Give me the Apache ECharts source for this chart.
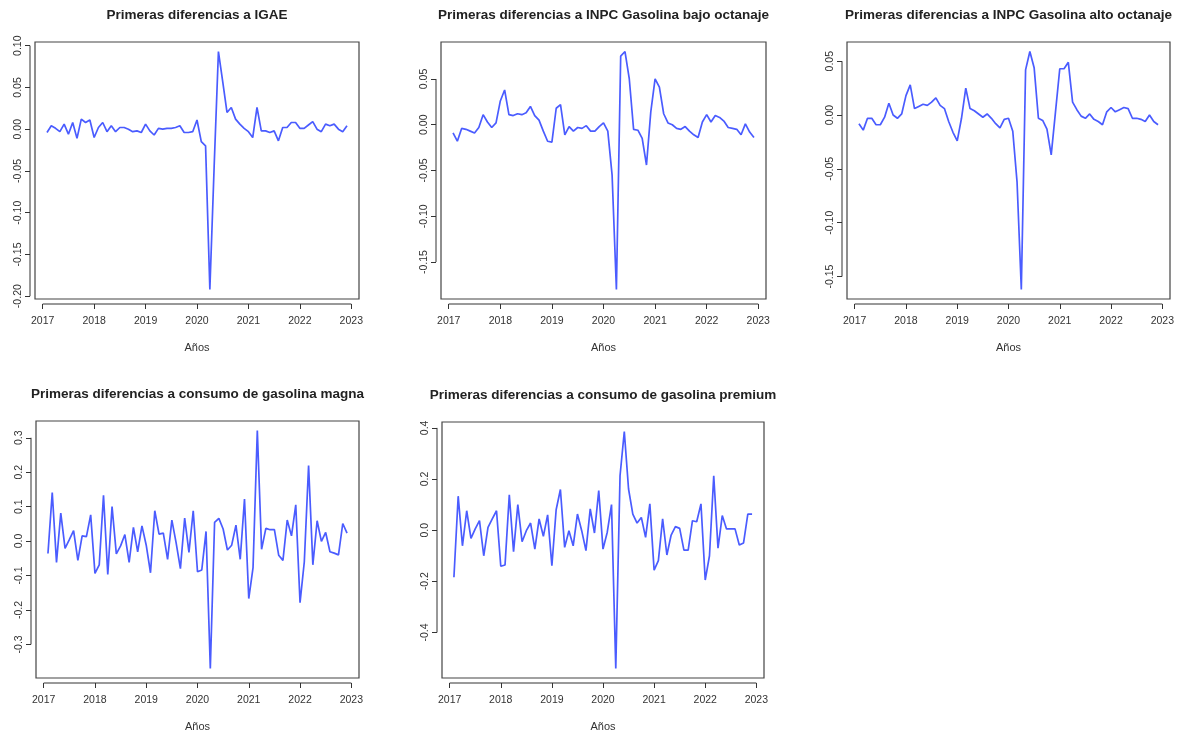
<!DOCTYPE html>
<html>
<head>
<meta charset="utf-8">
<script src="https://cdn.jsdelivr.net/npm/echarts@6/dist/echarts.min.js"></script>
<style>
html,body{margin:0;padding:0;background:#fff;}
#c{width:1181px;height:733px;}
</style>
</head>
<body>
<div id="c"></div>
<script>
// Monthly first differences, Feb 2017 .. Dec 2022
var startYear = 2017, startMonth = 2;

var igae = [-0.004,0.004,0.001,-0.003,0.006,-0.006,0.008,-0.011,0.012,0.008,0.011,-0.010,
 0.002,0.008,-0.003,0.004,-0.003,0.002,0.002,0.000,-0.003,-0.002,-0.004,0.006,
 -0.002,-0.007,0.001,0.000,0.001,0.001,0.002,0.004,-0.004,-0.004,-0.003,0.011,
 -0.015,-0.020,-0.192,-0.045,0.093,0.057,0.020,0.026,0.012,0.006,0.001,-0.003,
 -0.010,0.026,-0.002,-0.002,-0.004,-0.002,-0.014,0.002,0.002,0.008,0.008,0.001,
 0.001,0.005,0.009,0.000,-0.003,0.006,0.004,0.006,0.000,-0.003,0.004];

var inpcBajo = [-0.009,-0.018,-0.004,-0.005,-0.007,-0.009,-0.003,0.011,0.003,-0.003,0.002,0.026,
 0.038,0.011,0.010,0.012,0.011,0.013,0.020,0.010,0.005,-0.007,-0.018,-0.019,
 0.018,0.022,-0.011,-0.002,-0.007,-0.003,-0.004,-0.001,-0.007,-0.007,-0.002,0.002,
 -0.007,-0.055,-0.180,0.075,0.080,0.050,-0.005,-0.006,-0.015,-0.044,0.014,0.050,
 0.041,0.012,0.002,0.000,-0.004,-0.005,-0.002,-0.007,-0.011,-0.014,0.003,0.011,
 0.003,0.010,0.008,0.004,-0.003,-0.004,-0.005,-0.011,0.001,-0.008,-0.014];

var inpcAlto = [-0.008,-0.014,-0.003,-0.003,-0.009,-0.009,-0.002,0.011,0.000,-0.003,0.001,0.018,
 0.028,0.006,0.008,0.010,0.009,0.012,0.016,0.009,0.006,-0.006,-0.016,-0.024,
 -0.003,0.025,0.006,0.004,0.001,-0.002,0.001,-0.003,-0.008,-0.012,-0.004,-0.003,
 -0.015,-0.062,-0.162,0.042,0.059,0.044,-0.003,-0.005,-0.013,-0.037,0.003,0.043,
 0.043,0.049,0.012,0.005,-0.001,-0.003,0.001,-0.004,-0.006,-0.009,0.003,0.007,
 0.003,0.005,0.007,0.006,-0.003,-0.003,-0.004,-0.006,0.000,-0.006,-0.009];

var magna = [-0.036,0.141,-0.062,0.081,-0.021,0.004,0.030,-0.056,0.015,0.013,0.076,-0.094,
 -0.069,0.133,-0.097,0.100,-0.037,-0.014,0.019,-0.062,0.040,-0.031,0.044,-0.012,
 -0.092,0.088,0.020,0.023,-0.053,0.061,-0.005,-0.080,0.067,-0.033,0.088,-0.089,
 -0.084,0.028,-0.370,0.054,0.066,0.035,-0.026,-0.012,0.046,-0.053,0.122,-0.167,
 -0.077,0.321,-0.024,0.037,0.033,0.033,-0.041,-0.056,0.061,0.015,0.105,-0.179,
 -0.060,0.219,-0.069,0.059,-0.001,0.025,-0.031,-0.035,-0.040,0.051,0.023];

var premium = [-0.184,0.133,-0.061,0.076,-0.032,0.005,0.037,-0.100,0.011,0.044,0.076,-0.141,
 -0.136,0.138,-0.084,0.100,-0.045,-0.002,0.028,-0.074,0.044,-0.024,0.060,-0.139,
 0.080,0.159,-0.067,-0.002,-0.061,0.063,-0.002,-0.080,0.083,-0.011,0.155,-0.074,
 -0.008,0.100,-0.541,0.213,0.386,0.161,0.063,0.028,0.050,-0.028,0.103,-0.156,
 -0.119,0.044,-0.097,-0.019,0.014,0.007,-0.078,-0.078,0.037,0.033,0.103,-0.195,
 -0.100,0.213,-0.070,0.057,0.005,0.005,0.005,-0.058,-0.050,0.063,0.063];

var titles = [
  "Primeras diferencias a IGAE",
  "Primeras diferencias a INPC Gasolina bajo octanaje",
  "Primeras diferencias a INPC Gasolina alto octanaje",
  "Primeras diferencias a consumo de gasolina magna",
  "Primeras diferencias a consumo de gasolina premium"
];
var xTicks = [2017, 2018, 2019, 2020, 2021, 2022, 2023];
var yTicks1 = [-0.20, -0.15, -0.10, -0.05, 0.00, 0.05, 0.10];
var yLabels1 = ["-0.20", "-0.15", "-0.10", "-0.05", "0.00", "0.05", "0.10"];
var yTicks2 = [-0.15, -0.10, -0.05, 0.00, 0.05];
var yLabels2 = ["-0.15", "-0.10", "-0.05", "0.00", "0.05"];
var yTicks3 = [-0.15, -0.10, -0.05, 0.00, 0.05];
var yLabels3 = ["-0.15", "-0.10", "-0.05", "0.00", "0.05"];
var yTicks4 = [-0.3, -0.2, -0.1, 0.0, 0.1, 0.2, 0.3];
var yLabels4 = ["-0.3", "-0.2", "-0.1", "0.0", "0.1", "0.2", "0.3"];
var yTicks5 = [-0.4, -0.2, 0.0, 0.2, 0.4];
var yLabels5 = ["-0.4", "-0.2", "0.0", "0.2", "0.4"];
var xName = "Años";

var panels = [
  {vals: igae, yt: yTicks1, yl: yLabels1, grid: {left: 35, top: 42, width: 324, height: 257}},
  {vals: inpcBajo, yt: yTicks2, yl: yLabels2, grid: {left: 441, top: 42, width: 325, height: 257}},
  {vals: inpcAlto, yt: yTicks3, yl: yLabels3, grid: {left: 847, top: 42, width: 323, height: 257}},
  {vals: magna, yt: yTicks4, yl: yLabels4, grid: {left: 36, top: 421, width: 323, height: 258}},
  {vals: premium, yt: yTicks5, yl: yLabels5, grid: {left: 442, top: 422, width: 322, height: 257}}
];

var FONT = "'Liberation Sans', Arial, Helvetica, sans-serif";
var LINE = '#4a5cff';
var INK = '#333';
var OFF = 5;

var option = {
  animation: false,
  backgroundColor: '#fff',
  title: [], grid: [], xAxis: [], yAxis: [], series: []
};

panels.forEach(function (p, k) {
  var n = p.vals.length;
  var pts = p.vals.map(function (v, i) {
    return [startYear + (startMonth - 1 + i) / 12, v];
  });
  var x0 = pts[0][0], x1 = pts[n - 1][0];
  var xs = (x1 - x0) * 0.04;
  var ymn = Math.min.apply(null, p.vals), ymx = Math.max.apply(null, p.vals);
  var ys = (ymx - ymn) * 0.04;
  var xMin = x0 - xs, xMax = x1 + xs, yMin = ymn - ys, yMax = ymx + ys;

  option.title.push({
    text: titles[k],
    left: p.grid.left + p.grid.width / 2,
    top: p.grid.top - 34,
    textAlign: 'center',
    padding: 0,
    textStyle: {fontFamily: FONT, fontWeight: 'bold', fontSize: 13.5, color: '#222'}
  });
  option.grid.push({
    left: p.grid.left, top: p.grid.top, width: p.grid.width, height: p.grid.height,
    show: true, borderColor: '#444', borderWidth: 1.2, backgroundColor: 'transparent',
    containLabel: false
  });
  option.xAxis.push({
    type: 'value', gridIndex: k, min: xMin, max: xMax,
    offset: OFF,
    splitLine: {show: false},
    axisLine: {show: false, onZero: false},
    axisTick: {show: true, customValues: xTicks, length: 5, lineStyle: {color: INK, width: 1}},
    axisLabel: {show: true, customValues: xTicks, margin: 12, fontFamily: FONT, fontSize: 10.5, color: INK,
      formatter: function (v) { return String(Math.round(v)); }},
    name: xName, nameLocation: 'middle', nameGap: 38,
    nameTextStyle: {fontFamily: FONT, fontSize: 11, color: INK}
  });
  var yl = p.yl, yt = p.yt;
  option.yAxis.push({
    type: 'value', gridIndex: k, min: yMin, max: yMax,
    offset: OFF,
    splitLine: {show: false},
    axisLine: {show: false, onZero: false},
    axisTick: {show: true, customValues: yt, length: 5, lineStyle: {color: INK, width: 1}},
    axisLabel: {show: true, customValues: yt, rotate: 90, margin: 6, fontFamily: FONT, fontSize: 10.5, color: INK,
      formatter: function (v) {
        for (var j = 0; j < yt.length; j++) { if (Math.abs(yt[j] - v) < 1e-9) return yl[j]; }
        return '';
      }}
  });
  option.series.push({
    type: 'line', xAxisIndex: k, yAxisIndex: k, data: pts,
    showSymbol: false, symbol: 'none',
    lineStyle: {color: LINE, width: 1.7}, itemStyle: {color: LINE},
    silent: true
  });
  // R-style axis lines spanning first..last tick, offset from the box
  option.series.push({
    type: 'custom', xAxisIndex: k, yAxisIndex: k, clip: false, silent: true,
    data: [[xMin, yMin]],
    renderItem: function (params, api) {
      var a = api.coord([xTicks[0], yMin]);
      var b = api.coord([xTicks[xTicks.length - 1], yMin]);
      var c = api.coord([xMin, yt[0]]);
      var d = api.coord([xMin, yt[yt.length - 1]]);
      var st = {stroke: INK, lineWidth: 1};
      return {type: 'group', children: [
        {type: 'line', shape: {x1: a[0], y1: a[1] + OFF, x2: b[0], y2: b[1] + OFF}, style: st},
        {type: 'line', shape: {x1: c[0] - OFF, y1: c[1], x2: d[0] - OFF, y2: d[1]}, style: st}
      ]};
    }
  });
});

var chart = echarts.init(document.getElementById('c'), null, {renderer: 'canvas'});
chart.setOption(option);
</script>
</body>
</html>
